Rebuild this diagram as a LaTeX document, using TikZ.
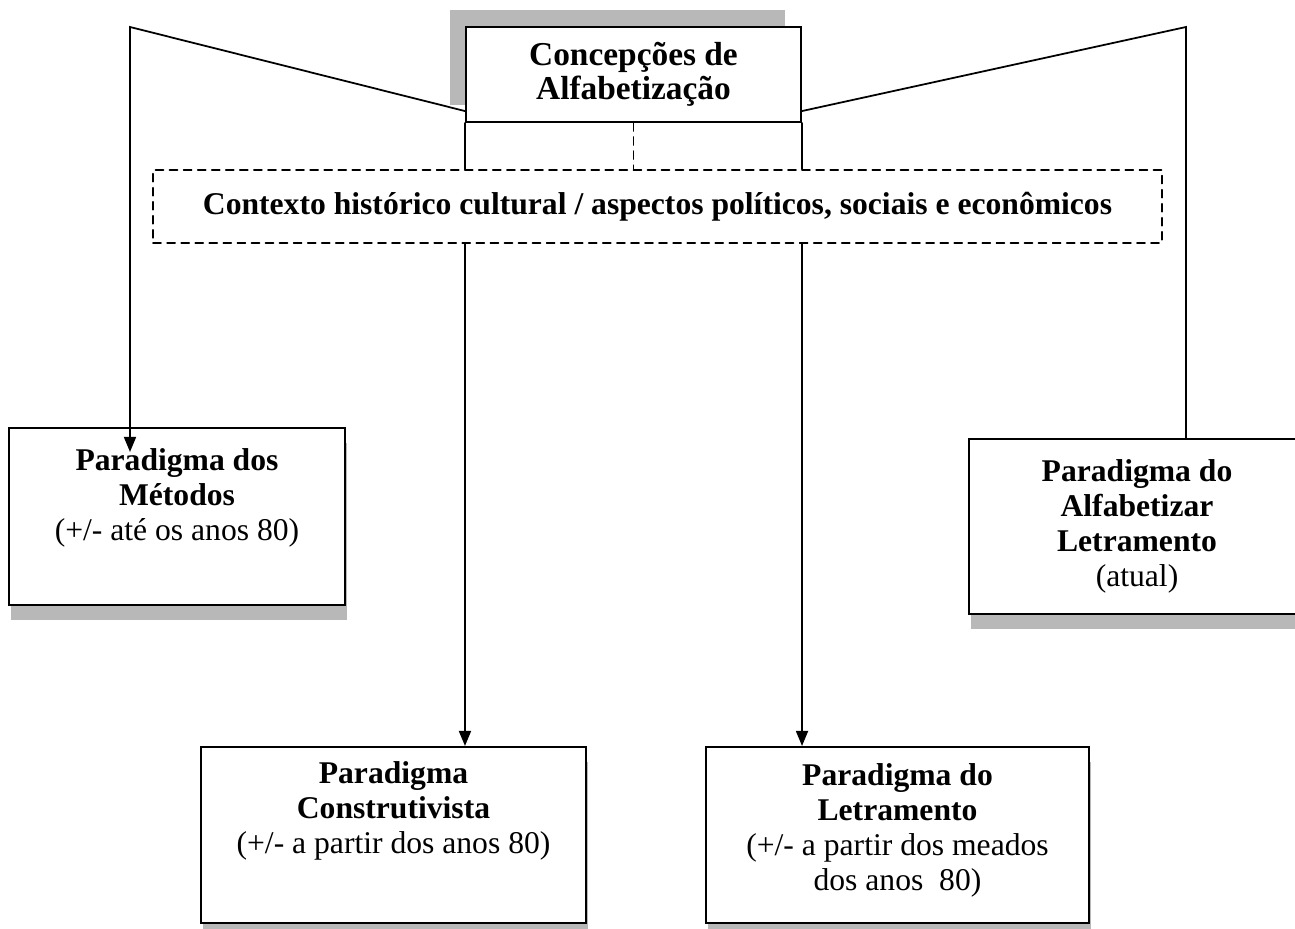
\documentclass[tikz,border=0pt]{standalone}
\usepackage{fontspec}
\setmainfont{Liberation Serif}
\usetikzlibrary{calc}
\usetikzlibrary{arrows.meta}
\usetikzlibrary{positioning}
\usetikzlibrary{shadows}

\begin{document}
\begin{tikzpicture}[x=0.02cm, y=-0.02cm, line cap=round, >={Triangle[length=0.3cm, width=0.24cm]},
    every node/.style={font=\fontsize{18}{20}\selectfont},
    pbox/.style={draw, line width=1.2pt, fill=white, inner sep=0pt, minimum width=6.72cm, minimum height=3.52cm},
    sbelow/.style={drop shadow={shadow xshift=0.04cm, shadow yshift=-0.3cm, fill=black!28, opacity=1}},
    sabove/.style={drop shadow={shadow xshift=-0.32cm, shadow yshift=0.34cm, fill=black!28, opacity=1}},
    ptext/.style={align=center, inner sep=0pt},
    conn/.style={line width=1pt}]
  \useasboundingbox (0,0) rectangle (1295,929);
  %--- Concepcoes
    \node[pbox, sabove, minimum width=6.7cm, minimum height=1.9cm] (concepcoes) at (633.5,74.5) {};
    \node[ptext, below=0.32cm of concepcoes.north, font=\fontsize{19}{19.5}\selectfont] (concepcoesT) {\textbf{Concepções de}\\\textbf{Alfabetização}};
  %--- Contexto
    \node[draw, dash pattern=on 4.5pt off 3.5pt, line width=1pt, inner sep=0pt,
          minimum width=20.18cm, minimum height=1.46cm] (contexto) at (657.5,206.5)
          {\textbf{Contexto histórico cultural / aspectos políticos, sociais e econômicos}};
  %--- Metodos
    \node[pbox, sbelow, minimum height=3.54cm] (metodos) at (177,516.5) {};
    \node[ptext, below=0.42cm of metodos.north] (metodosT) {\textbf{Paradigma dos}\\\textbf{Métodos}\\(+/- até os anos 80)};
  %--- Alfabetizar
    \node[pbox, sbelow, minimum height=3.5cm] (alfabetizar) at (1137,526.5) {};
    \node[ptext, below=0.42cm of alfabetizar.north] (alfabetizarT) {\textbf{Paradigma do}\\\textbf{Alfabetizar}\\\textbf{Letramento}\\(atual)};
  %--- Construtivista
    \node[pbox, sbelow, minimum width=7.7cm] (construtivista) at (393.5,835) {};
    \node[ptext, below=0.3cm of construtivista.north] (construtivistaT) {\textbf{Paradigma}\\\textbf{Construtivista}\\(+/- a partir dos anos 80)};
  %--- Letramento
    \node[pbox, sbelow, minimum width=7.66cm] (letramento) at (897.5,835) {};
    \node[ptext, below=0.34cm of letramento.north] (letramentoT) {\textbf{Paradigma do}\\\textbf{Letramento}\\(+/- a partir dos meados\\dos anos\ \ 80)};
  %--- ligacoes
    \coordinate (lcorner) at (130,27);
    \coordinate (rcorner) at (1186,27);
    \draw[conn, ->] ($(concepcoes.south west)+(0,-12)$) -- (lcorner) -- ($(lcorner |- metodos.north)+(0,25)$);
    \draw[conn] ($(concepcoes.south east)+(0,-12)$) -- (rcorner) -- (rcorner |- alfabetizar.north);
    \draw[conn] (concepcoes.south west) -- (concepcoes.south west |- contexto.north);
    \draw[conn] (concepcoes.south east) -- (concepcoes.south east |- contexto.north);
    \draw[conn, dash pattern=on 4.5pt off 3.5pt] (concepcoes.south) -- (concepcoes.south |- contexto.north);
    \draw[conn, ->] (concepcoes.south west |- contexto.south) -- (concepcoes.south west |- construtivista.north);
    \draw[conn, ->] (concepcoes.south east |- contexto.south) -- (concepcoes.south east |- letramento.north);
\end{tikzpicture}
\end{document}
